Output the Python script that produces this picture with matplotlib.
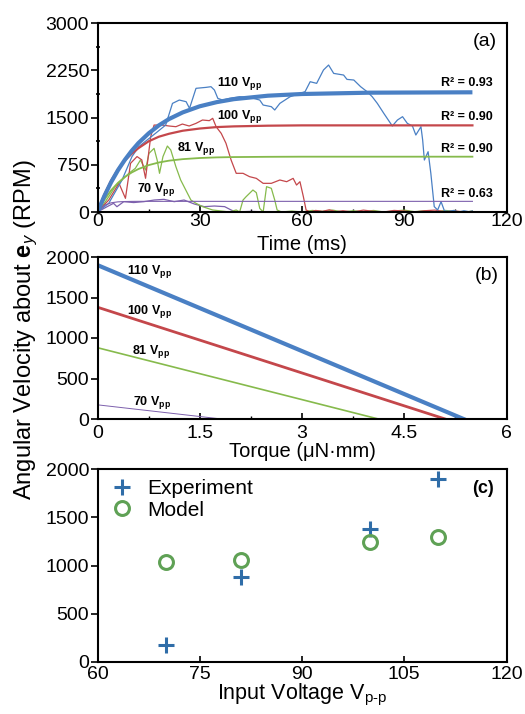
import matplotlib
matplotlib.use("Agg")
import matplotlib.pyplot as plt
from matplotlib.ticker import MultipleLocator

plt.rcParams['font.family'] = ['Liberation Sans', 'DejaVu Sans']
plt.rcParams['mathtext.fontset'] = 'custom'
plt.rcParams['mathtext.rm'] = 'Liberation Sans'
plt.rcParams['mathtext.it'] = 'Liberation Sans:italic'
plt.rcParams['mathtext.bf'] = 'Liberation Sans:bold'

BLUE = '#4a80c4'
RED = '#c4474b'
GREEN = '#86ba4c'
PURPLE = '#7d60ad'

# ---- panel (a): measured spin-up traces (ms, RPM) ----
blue_t = [0, 3.3, 7.2, 10.1, 12.1, 17, 20, 22, 24, 26, 27, 28.9, 31.8, 33.3, 34.3, 35.3, 36.7,
          38.7, 41.7, 44.6, 47.6, 48.6, 51, 52, 53.5, 56.5, 59.4, 60.9, 62.4, 64.3, 66.3, 67.8,
          69.3, 72.2, 73.2, 75.2, 77.2, 79.1, 80.6, 82.1, 84, 86.5, 88, 89.5, 90.9, 92.4, 93.4,
          94.9, 95.4, 95.9, 97, 97.8, 98.8, 99.8, 100.8, 101.8, 103, 104.5, 106, 107.5, 109, 110]
blue_v = [0, 138, 508, 878, 1037, 1248, 1380, 1724, 1777, 1751, 1645, 1963, 1978, 1989, 1936,
          1804, 1777, 1804, 1830, 1820, 1777, 1698, 1672, 1619, 1724, 1830, 1883, 1910, 2068,
          2042, 2254, 2333, 2200, 2174, 2105, 2095, 1989, 1910, 1830, 1724, 1566, 1365, 1460,
          1513, 1407, 1365, 1222, 1354, 1143, 825, 957, 614, 85, 32, 164, 16, 10, 25, 0, 20, 5, 15]

red_t = [0, 3.3, 6.3, 8.2, 9.7, 11.6, 13, 14.1, 15.6, 16.6, 19, 21, 23, 24.9, 26.9, 28.9, 30.8,
         32.8, 33.8, 34.8, 36.3, 37.7, 39.2, 40.7, 42.7, 44.6, 46.6, 48.6, 51, 53.5, 55.5, 57.4,
         58.4, 59.4, 60.4, 61.2, 62.4, 64, 66, 68, 70, 72, 75, 78, 81, 84, 87, 90, 93, 96, 99,
         102, 105, 108, 110]
red_v = [0, 190, 455, 217, 773, 880, 827, 535, 1195, 1380, 1380, 1365, 1354, 1396, 1365, 1407,
         1460, 1450, 1487, 1354, 1248, 1090, 825, 614, 614, 561, 534, 455, 455, 508, 481, 534,
         428, 481, 243, 32, 0, 25, 10, 35, 5, 20, 0, 30, 10, 0, 25, 15, 0, 20, 30, 5, 15, 0, 10]

green_t = [0, 1.3, 3.3, 5.2, 7.2, 9.2, 11.1, 12.6, 14.1, 15.1, 16.6, 17.5, 18.2, 19.2, 20.5,
           21.5, 23, 24.4, 25.9, 27.4, 28.9, 30.8, 33.8, 38.7, 40.7, 41.7, 42.7, 43.6, 45.6,
           46.6, 47.6, 48.6, 49.6, 51, 52, 52.7, 54, 57, 60, 63, 66, 69, 72, 75, 78, 81, 84,
           87, 90, 93, 96, 99, 102, 105, 108, 110]
green_v = [0, 85, 243, 402, 508, 614, 693, 825, 667, 931, 1010, 825, 614, 878, 1047, 984, 719,
           508, 349, 190, 138, 85, 32, 0, 32, 0, 190, 243, 349, 307, 58, 0, 402, 376, 190, 32,
           0, 15, 0, 25, 10, 30, 0, 20, 5, 25, 0, 15, 30, 5, 20, 0, 25, 10, 0, 15]

purple_t = [0, 2.8, 4.7, 5.7, 7.7, 10.6, 13.6, 16.6, 19.5, 22.5, 25.4, 28.4, 31.3, 34.3, 37.3,
            39.2, 40.5, 45, 50, 55, 60]
purple_v = [0, 84, 138, 84, 164, 150, 164, 190, 201, 164, 190, 127, 85, 95, 85, 32, 0, 10, 0,
            5, 0]

# ---- panel (a): exponential fits ----
fit_t = [0, 2, 4, 6, 8, 10, 12, 15, 18, 21, 25, 30, 35, 40, 50, 60, 80, 110]
fit_110 = [0, 253, 473, 663, 826, 969, 1094, 1248, 1375, 1476, 1581, 1678, 1744, 1791, 1846,
           1873, 1894, 1900]
fit_100 = [0, 276, 500, 677, 818, 923, 1013, 1122, 1195, 1242, 1290, 1325, 1348, 1359, 1370,
           1375, 1375, 1375]
fit_81 = [0, 194, 345, 463, 555, 626, 682, 744, 786, 815, 839, 857, 867, 872, 876, 878, 878, 878]
fit_70 = [0, 107, 146, 161, 166, 168, 169, 169, 169, 169, 169, 169, 169, 169, 169, 169, 169, 169]
r2_labels = ['R² = 0.93', 'R² = 0.90', 'R² = 0.90', 'R² = 0.63']

# ---- panel (b): torque-speed lines ----
stall_speed = [1900, 1380, 880, 175]
stall_torque = [5.37, 5.10, 4.12, 1.82]
volt_labels = ['110', '100', '81', '70']

# ---- panel (c) ----
voltage = [70, 81, 100, 110]
experiment = [175, 880, 1380, 1900]
model = [1040, 1058, 1248, 1300]

fig = plt.figure(figsize=(5.25, 7.14), dpi=100)
L, W = 97.5 / 525, 409 / 525
ax_a = fig.add_axes([L, 1 - 212 / 714, W, 189 / 714])
ax_b = fig.add_axes([L, 1 - 419 / 714, W, 162 / 714])
ax_c = fig.add_axes([L, 1 - 662 / 714, W, 193 / 714])

for ax in (ax_a, ax_b, ax_c):
    for s in ax.spines.values():
        s.set_linewidth(1.5)
    ax.tick_params(axis='x', direction='in', length=4, width=1.2, labelsize=14, pad=1)
    ax.tick_params(axis='y', direction='out', length=5, width=1.2, labelsize=14, pad=1)
    ax.tick_params(axis='x', which='minor', direction='in', length=2.5, width=1.0)
    ax.tick_params(axis='y', which='minor', direction='inout', length=3, width=1.2)
ax_b.tick_params(axis='x', pad=4)
ax_c.tick_params(axis='x', pad=3)

# (a)
ax_a.plot(purple_t, purple_v, color=PURPLE, lw=0.9)
ax_a.plot(green_t, green_v, color=GREEN, lw=0.9)
ax_a.plot(red_t, red_v, color=RED, lw=0.9)
ax_a.plot(blue_t, blue_v, color=BLUE, lw=0.9)
ax_a.plot(fit_t, fit_70, color=PURPLE, lw=0.8)
ax_a.plot(fit_t, fit_81, color=GREEN, lw=1.3)
ax_a.plot(fit_t, fit_100, color=RED, lw=1.6)
ax_a.plot(fit_t, fit_110, color=BLUE, lw=3.0, solid_capstyle='butt')
ax_a.set_xlim(0, 120)
ax_a.set_ylim(0, 3000)
ax_a.xaxis.set_major_locator(MultipleLocator(30))
ax_a.xaxis.set_minor_locator(MultipleLocator(15))
ax_a.yaxis.set_major_locator(MultipleLocator(750))
ax_a.yaxis.set_minor_locator(MultipleLocator(375))
ax_a.set_xlabel('Time (ms)', fontsize=14.5, labelpad=3)
lab_pos_a = [(35, 2040), (35, 1510), (23.4, 1010), (11.5, 350)]
for (x, y), v in zip(lab_pos_a, volt_labels):
    ax_a.text(x, y, v + r' $\mathbf{V_{pp}}$', fontsize=9, fontweight='bold', va='center')
for y, r in zip([2043, 1503, 995, 281], r2_labels):
    ax_a.text(116, y, r, fontsize=9, fontweight='bold', ha='right', va='center')
ax_a.text(0.977, 0.90, '(a)', transform=ax_a.transAxes, fontsize=14, ha='right', va='center')

# (b)
colors = [BLUE, RED, GREEN, PURPLE]
widths = [3.0, 2.0, 1.2, 0.7]
for v0, tq, c, w in zip(stall_speed, stall_torque, colors, widths):
    ax_b.plot([0, tq], [v0, 0], color=c, lw=w)
ax_b.set_xlim(0, 6)
ax_b.set_ylim(0, 2000)
ax_b.xaxis.set_major_locator(MultipleLocator(1.5))
ax_b.xaxis.set_minor_locator(MultipleLocator(0.75))
ax_b.yaxis.set_major_locator(MultipleLocator(500))
ax_b.xaxis.set_major_formatter(plt.FuncFormatter(lambda x, p: f'{x:g}'))
ax_b.set_xlabel('Torque (μN·mm)', fontsize=14.5, labelpad=0)
lab_pos_b = [(0.43, 1815), (0.43, 1330), (0.5, 830), (0.52, 200)]
for (x, y), v in zip(lab_pos_b, volt_labels):
    ax_b.text(x, y, v + r' $\mathbf{V_{pp}}$', fontsize=9, fontweight='bold', va='center')
ax_b.text(0.98, 0.887, '(b)', transform=ax_b.transAxes, fontsize=14, ha='right', va='center')

# (c)
ax_c.plot(voltage, experiment, linestyle='none', marker='+', markersize=12, mew=2.2,
          color='#2f6da8', label='Experiment')
ax_c.plot(voltage, model, linestyle='none', marker='o', markersize=10, mew=2.2,
          mfc='none', color='#5fa155', label='Model')
ax_c.set_xlim(60, 120)
ax_c.set_ylim(0, 2000)
ax_c.xaxis.set_major_locator(MultipleLocator(15))
ax_c.yaxis.set_major_locator(MultipleLocator(500))
ax_c.set_xlabel(r'Input Voltage V$_{\text{p-p}}$', fontsize=15.5, labelpad=-1)
ax_c.legend(loc='upper left', frameon=False, fontsize=15, handletextpad=0.48,
            borderaxespad=0.1, labelspacing=0.1, handlelength=1.4)
ax_c.text(0.97, 0.90, '(c)', transform=ax_c.transAxes, fontsize=13, fontweight='bold',
          ha='right', va='center')

fig.text(0.05, 0.538, r'Angular Velocity about $\mathbf{e}_y$ (RPM)', rotation=90,
         fontsize=17, ha='center', va='center')

fig.savefig('out.png', dpi=100)
